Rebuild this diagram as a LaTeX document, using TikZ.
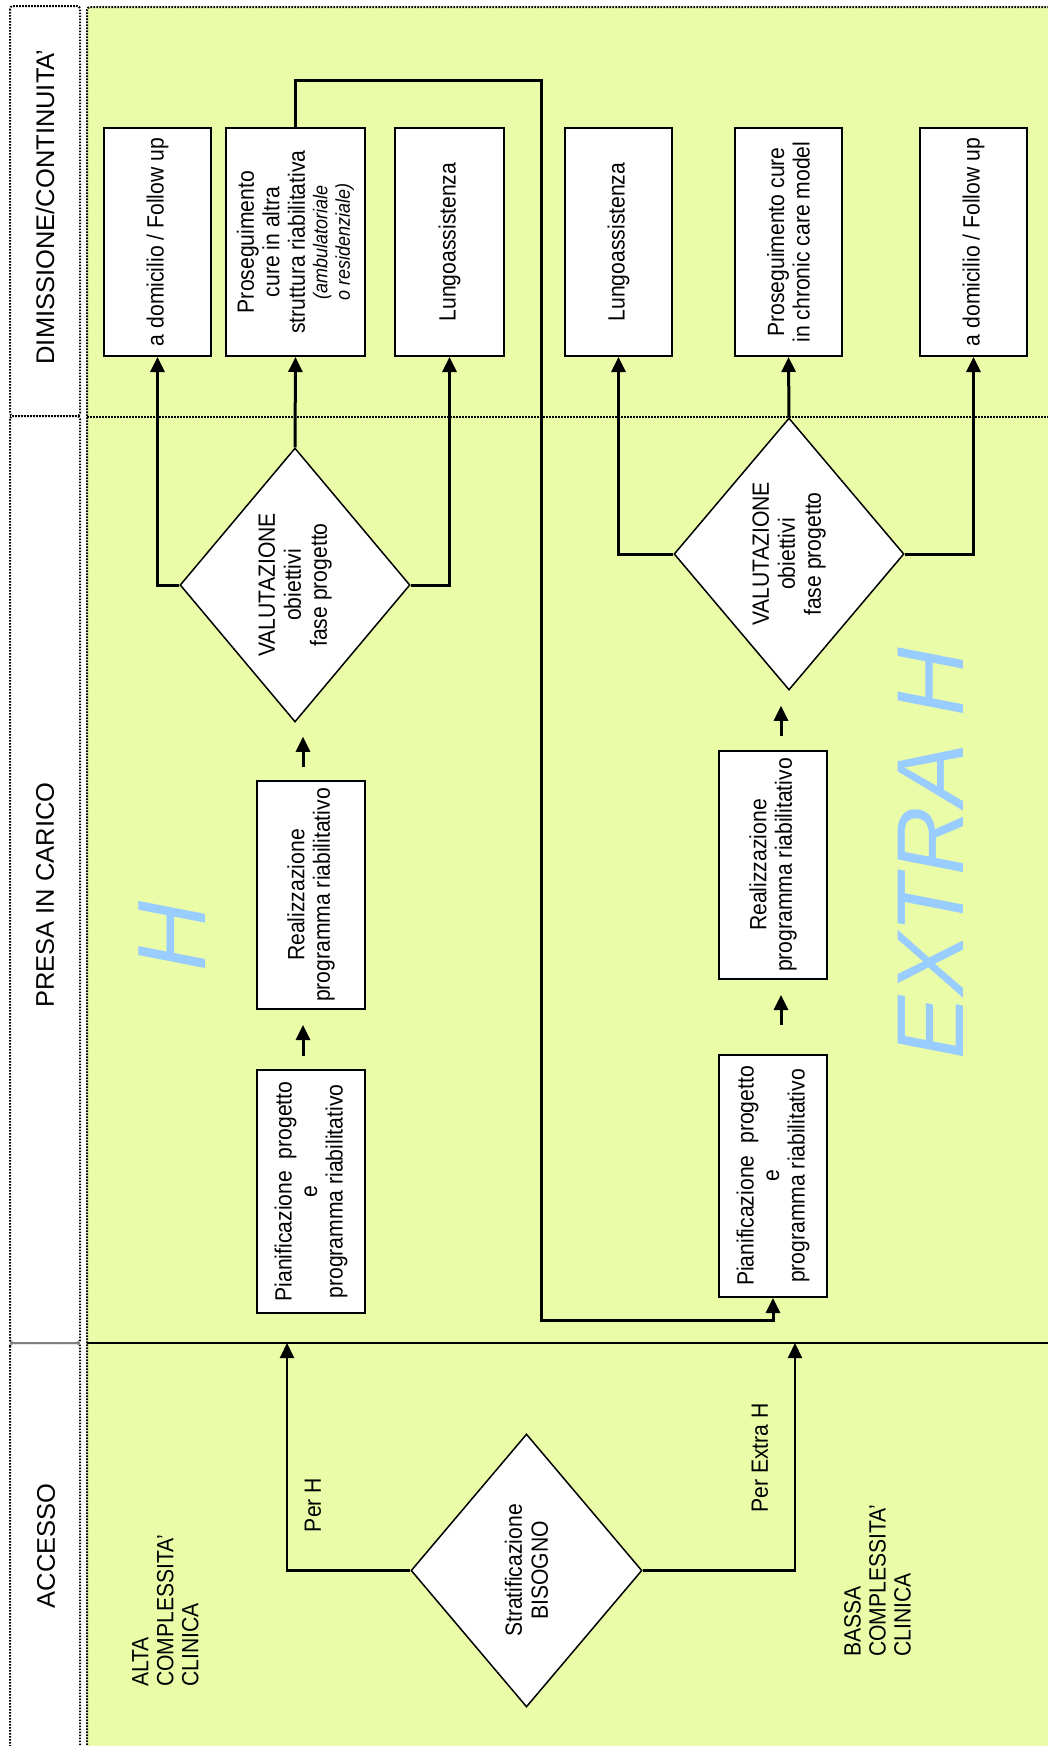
\documentclass[tikz,border=0pt]{standalone}
\usepackage{fontspec}
\setmainfont{Liberation Sans}
\newfontfamily\tallfont[FakeStretch=0.9]{Liberation Sans}
\usetikzlibrary{arrows.meta,shapes.geometric}
\definecolor{lanegreen}{RGB}{234,252,168}
\definecolor{bigblue}{RGB}{153,204,255}
\begin{document}
\begin{tikzpicture}[x=1pt,y=-1pt,
  lanedot/.style={line width=2, dash pattern=on 1.6pt off 1.4pt},
  boxnode/.style={draw=black, line width=2, fill=white, rotate=90, inner sep=2, align=center,
    font=\tallfont\fontsize{23.5}{25.5}\selectfont},
  dianode/.style={draw=black, line width=1.5, fill=white, shape=diamond, inner sep=0,
    minimum width=230, minimum height=274},
  ditext/.style={rotate=90, align=center, font=\tallfont\fontsize{23.5}{26}\selectfont},
  plain/.style={rotate=90, align=center, font=\tallfont\fontsize{23.5}{25}\selectfont},
  header/.style={rotate=90, font=\fontsize{25.5}{30}\selectfont},
  bigtext/.style={rotate=90, text=bigblue, font=\fontsize{97}{110}\selectfont\itshape},
  conn/.style={draw=black, line width=3},
  thinconn/.style={draw=black, line width=2.2},
  tip/.style={-{Triangle[length=15pt,width=14pt]}}
]
\useasboundingbox (0,0) rectangle (1048,1746);
\clip (0,0) rectangle (1048,1746);
% background lanes
\fill[lanegreen] (87,7) rectangle (1060,1760);
\draw[lanedot, rounded corners=3] (87,1760) -- (87,7) -- (1060,7);
\draw[lanedot] (87,417) -- (1060,417);
\draw[black, line width=2.5] (87,1343) -- (1060,1343);
% header column
\draw[lanedot, fill=white, rounded corners=3] (10,6) rectangle (80,416);
\draw[lanedot, fill=white, rounded corners=3] (10,416) rectangle (80,1343);
\draw[lanedot, fill=white, rounded corners=3] (10,1343) rectangle (80,1770);
\draw[gray, line width=2] (10,1343) -- (80,1343);
\node[header] (hD) at (45,207) {DIMISSIONE/CONTINUITA’};
\node[header] (hP) at (45,895) {PRESA IN CARICO};
\node[header] (hA) at (46,1546) {ACCESSO};
% big letters
\node[bigtext] (bigH) at (172,936) {H};
\node[bigtext, font=\fontsize{95}{110}\selectfont\itshape] (bigE) at (931,854) {EXTRA H};
% discharge boxes
\node[boxnode, minimum width=228, minimum height=107] (b1) at (157.5,242) {a domicilio / Follow up};
\node[boxnode, minimum width=228, minimum height=139] (b2) at (295.5,242)
  {Proseguimento\\cure in altra\\struttura riabilitativa\\[-3pt]
   {\fontsize{20}{22}\selectfont\itshape (ambulatoriale}\\[-3pt]
   {\fontsize{20}{22}\selectfont\itshape o residenziale)}};
\node[boxnode, minimum width=228, minimum height=109] (b3) at (449.5,242) {Lungoassistenza};
\node[boxnode, minimum width=228, minimum height=107] (b4) at (618.5,242) {Lungoassistenza};
\node[boxnode, minimum width=228, minimum height=107] (b5) at (788.5,242) {Proseguimento cure\\in chronic care model};
\node[boxnode, minimum width=228, minimum height=107] (b6) at (973.5,242) {a domicilio / Follow up};
% presa in carico boxes
\node[boxnode, minimum width=243, minimum height=108] (pH) at (311,1191.5) {Pianificazione\ \ progetto\\e\\programma riabilitativo};
\node[boxnode, minimum width=228, minimum height=108] (rH) at (311,895) {Realizzazione\\programma riabilitativo};
\node[boxnode, minimum width=242, minimum height=108] (pE) at (773,1176) {Pianificazione\ \ progetto\\e\\programma riabilitativo};
\node[boxnode, minimum width=228, minimum height=108] (rE) at (773,865) {Realizzazione\\programma riabilitativo};
% diamonds
\node[dianode] (dH) at (295,585) {};
\node[ditext] (tH) at (dH.center) {VALUTAZIONE\\obiettivi\\fase progetto};
\node[dianode, minimum height=272] (dE) at (789,554) {};
\node[ditext] (tE) at (dE.center) {VALUTAZIONE\\obiettivi\\fase progetto};
\node[dianode, minimum width=231, minimum height=273] (dS) at (526.5,1570.5) {};
\node[ditext] (tS) at (dS.center) {Stratificazione\\BISOGNO};
% labels
\node[plain] (lH) at (313,1505) {Per H};
\node[plain] (lE) at (760,1458) {Per Extra H};
\node[plain, align=left, anchor=north west, inner sep=0] (alta) at (132,1687) {ALTA\\COMPLESSITA’\\CLINICA};
\node[plain, align=left, anchor=north west, inner sep=0] (bassa) at (844,1657) {BASSA\\COMPLESSITA’\\CLINICA};
% coordinates
\coordinate (cA) at (541,80);
\coordinate (cB) at (541,1320);
\coordinate (eH) at (287,1343);
\coordinate (eE) at (795,1343);
% connectors H
\draw[conn, tip] (dH.west) -| (b1.west);
\draw[conn, tip] (dH.north) -- (b2.west);
\draw[conn, tip] (dH.east) -| (b3.west);
\draw[conn, tip, shorten <=13pt, shorten >=14pt] ([xshift=-8pt]rH.east) -- ([xshift=-8pt]rH.east |- dH.south);
\draw[conn, tip, shorten <=13pt, shorten >=15pt] ([xshift=-8pt]pH.east) -- ([xshift=-8pt]rH.west);
% connectors Extra H
\draw[conn, tip] (dE.west) -| (b4.west);
\draw[conn, tip] (dE.north) -- (b5.west);
\draw[conn, tip] (dE.east) -| (b6.west);
\draw[conn, tip, shorten <=14pt, shorten >=15pt] ([xshift=8pt]rE.east) -- ([xshift=8pt]rE.east |- dE.south);
\draw[conn, tip, shorten <=29pt, shorten >=15pt] ([xshift=8pt]pE.east) -- ([xshift=8pt]rE.west);
% long connector
\draw[conn, tip] (b2.east) |- (cA) -- (cB) -| (pE.west);
% access connectors
\draw[thinconn, tip] (dS.west) -| (eH);
\draw[thinconn, tip] (dS.east) -| (eE);
\end{tikzpicture}
\end{document}
